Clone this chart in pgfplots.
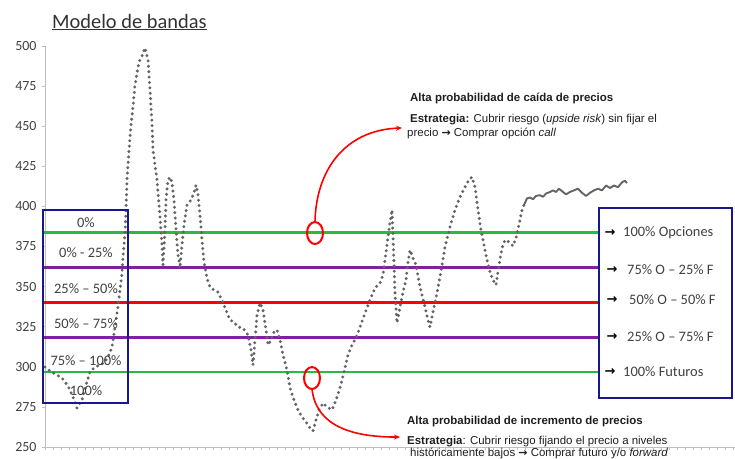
\documentclass[border=0pt]{standalone}
\usepackage{fontspec}
\setmainfont{Carlito}
\newfontfamily\arial{Liberation Sans}
\newfontfamily\djv{DejaVu Sans}
\usepackage{pgfplots}
\pgfplotsset{compat=1.18}
\usetikzlibrary{calc,arrows.meta}
\definecolor{navybox}{RGB}{24,24,140}
\definecolor{bgreen}{RGB}{40,185,70}
\definecolor{bpurple}{RGB}{128,32,160}
\definecolor{bred}{RGB}{255,0,0}
\definecolor{dotgray}{RGB}{100,100,100}
\definecolor{axgray}{RGB}{190,190,190}
\definecolor{txtgray}{RGB}{64,64,64}
\definecolor{anntxt}{RGB}{30,30,30}
\begin{document}
\begin{tikzpicture}
\begin{axis}[name=ax, scale only axis, width=690bp, height=401bp,
  xmin=45, xmax=735, ymin=250, ymax=500,
  axis x line=bottom, axis y line=left,
  axis line style={-, draw=axgray, line width=0.8bp},
  ytick={250,275,...,500}, xtick={45,53,...,735}, xticklabels={},
  tick align=outside, major tick length=3bp,
  tick style={draw=axgray, line width=0.6bp},
  yticklabel style={font=\fontsize{14}{16}\selectfont, text=txtgray, xshift=-2bp},
  /pgf/number format/assume math mode=true,
  clip=false]
% band lines
\addplot[bgreen, line width=2.6bp, forget plot] coordinates {(43,383.6) (598,383.6)};
\addplot[bpurple, line width=2.6bp, forget plot] coordinates {(43,361.8) (598,361.8)};
\addplot[bred, line width=2.6bp, forget plot] coordinates {(43,340.0) (598,340.0)};
\addplot[bpurple, line width=2.6bp, forget plot] coordinates {(43,318.3) (598,318.3)};
\addplot[bgreen, line width=2.6bp, forget plot] coordinates {(43,296.8) (598,296.8)};
% price series (dotted part)
\addplot[dotgray, line width=3.3bp, line cap=round, dash pattern=on 0bp off 5.4bp] coordinates {
(45,299.9) (50,297.4) (55,295.5) (62,293.0) (68,288.0) (73,281.2) (77,274.3)
(82,279.3) (86,288.7) (90,296.8) (95,299.9) (100,301.1) (105,303.0) (109,307.4)
(112,312.3) (115,324.8) (118,337.3) (120,347.9) (122,358.5) (123,368.5) (125,383.4)
(126,397.8) (127,416.5) (129,435.2) (131,450.8) (133,462.0) (135,475.7) (137,483.2)
(139,490.0) (142,493.8) (145,498.8) (148,491.3) (150,472.6) (152,452.0) (153,435.2)
(155,425.8) (157,416.5) (160,393.4) (162,376.0) (163,363.5) (165,385.3) (166,404.0)
(168,416.5) (170,418.3) (172,414.6) (174,404.0) (176,385.3) (178,369.7) (180,361.6)
(182,376.0) (184,388.4) (187,400.9) (191,404.0) (194,408.4) (196,413.3) (198,407.1)
(200,394.6) (202,379.0) (204,365.3) (207,355.4) (210,349.7) (214,347.9) (218,346.6)
(222,341.6) (226,335.4) (230,329.2) (234,327.9) (238,324.8) (243,324.2) (248,319.8)
(251,310.5) (253,301.1) (255,316.7) (257,332.3) (260,339.8) (263,335.4) (266,323.0)
(268,313.6) (271,316.7) (274,321.7) (277,323.0) (280,316.7) (283,307.4) (287,298.0)
(290,286.8) (294,279.3) (298,273.1) (302,268.7) (306,265.6) (310,261.8) (313,260.0)
(316,266.8) (319,273.1) (323,277.4) (327,274.9) (332,273.1) (336,279.3) (340,286.8)
(344,296.8) (348,307.4) (352,313.6) (356,318.0) (360,324.8) (365,333.5) (370,341.6)
(375,349.1) (380,352.2) (383,357.2) (385,366.6) (388,380.9) (390,390.3) (392,397.8)
(393,382.2) (394,363.5) (395,346.0) (397,327.3) (400,337.3) (403,346.6) (406,354.1)
(408,365.3) (410,372.8) (413,367.8) (416,363.5) (420,349.8) (425,337.3) (428,329.2)
(430,324.8) (433,334.2) (436,342.9) (440,356.0) (445,374.7) (450,387.2) (455,397.8)
(460,405.9) (465,412.1) (469,416.5) (472,418.3) (475,412.1) (478,397.8) (481,385.3)
(484,376.0) (487,366.6) (490,359.1) (493,354.1) (496,351.0) (499,363.5) (502,374.1)
(505,379.1) (509,377.8) (513,375.3) (516,380.3) (519,388.4) (522,397.8) (524,400.9)
};
% price series (solid part)
\addplot[dotgray, line width=1.9bp, line join=round] coordinates {
(524,400.9) (527,405.0) (530,405.5) (533,404.5) (536,406.5) (540,407.0) (543,406.0)
(546,408.0) (550,409.0) (553,410.0) (556,409.0) (559,411.0) (562,409.5) (566,407.5)
(570,409.0) (574,410.0) (578,411.0) (582,408.5) (586,406.5) (590,408.5) (594,410.0)
(598,411.0) (602,410.0) (606,413.0) (610,411.5) (614,413.0) (618,412.0) (622,415.0)
(625,416.0) (627,414.5)
};
% boxes
\draw[navybox, line width=2.5bp] (axis cs:43,277.4) rectangle (axis cs:128,397.8);
\draw[navybox, line width=2.5bp] (axis cs:599,280.5) rectangle (axis cs:732,399.0);
% box labels
\begin{scope}[every node/.style={font=\fontsize{14.5}{16}\selectfont, text=txtgray, inner sep=0pt}]
\node at (axis cs:86,389.7) {0\%};
\node at (axis cs:86,370.9) {0\% - 25\%};
\node at (axis cs:86,348.5) {25\% -- 50\%};
\node at (axis cs:86,326.7) {50\% -- 75\%};
\node at (axis cs:86,303.6) {75\% -- 100\%};
\node at (axis cs:86,284.9) {100\%};
\node[anchor=west] at (axis cs:623,383.4) {100\% Opciones};
\node[anchor=west] at (axis cs:627,360.4) {75\% O -- 25\% F};
\node[anchor=west] at (axis cs:629,341.6) {50\% O -- 50\% F};
\node[anchor=west] at (axis cs:627,318.6) {25\% O -- 75\% F};
\node[anchor=west] at (axis cs:623,296.8) {100\% Futuros};
\end{scope}
\begin{scope}[every node/.style={font=\djv\bfseries\fontsize{13}{13}\selectfont, text=black, inner sep=0pt}]
\node at (axis cs:610,383.4) {→};
\node at (axis cs:612,360.4) {→};
\node at (axis cs:612,341.6) {→};
\node at (axis cs:612,318.6) {→};
\node at (axis cs:610,296.8) {→};
\end{scope}
% title
\node[anchor=base west, inner sep=0pt, text={rgb,255:red,50;green,50;blue,50}, font=\fontsize{20.5}{22}\selectfont] at (axis cs:52,511.2) {\underline{Modelo de bandas}};
% annotations
\begin{scope}[every node/.style={anchor=base west, inner sep=0pt, text=anntxt, font=\arial\fontsize{11.5}{13}\selectfont}]
\node at (axis cs:410,465.7) {\textbf{Alta probabilidad de caída de precios}};
\node at (axis cs:410,452.6) {\textbf{Estrategia:} Cubrir riesgo (\textit{upside risk}) sin fijar el};
\node at (axis cs:407,443.3) {precio {\djv\bfseries\fontsize{11}{11}\selectfont →} Comprar opción \textit{call}};
\node at (axis cs:407,264.3) {\textbf{Alta probabilidad de incremento de precios}};
\node at (axis cs:407,251.3) {\textbf{Estrategia}: Cubrir riesgo fijando el precio a niveles};
\node at (axis cs:410,243.8) {históricamente bajos {\djv\bfseries\fontsize{11}{11}\selectfont →} Comprar futuro y/o \textit{forward}};
\end{scope}
% red markers
\draw[bred, line width=2bp] (axis cs:315,383.4) ellipse [x radius=8bp, y radius=11bp];
\draw[bred, line width=2bp] (axis cs:312,293.0) ellipse [x radius=8bp, y radius=11bp];
\draw[bred, line width=1.6bp, -{Stealth[length=6bp,width=5bp]}] (axis cs:315,390.3) .. controls (axis cs:316,422.7) and (axis cs:345,447.6) .. (axis cs:402,448.9);
\draw[bred, line width=1.6bp, -{Stealth[length=6bp,width=5bp]}] (axis cs:312,286.2) .. controls (axis cs:316,263.7) and (axis cs:350,256.2) .. (axis cs:400,256.2);
\end{axis}
\pgfresetboundingbox
\path[use as bounding box] ($(ax.south west)+(-45bp,-12bp)$) rectangle ($(ax.south west)+(690bp,447bp)$);
\end{tikzpicture}
\end{document}
